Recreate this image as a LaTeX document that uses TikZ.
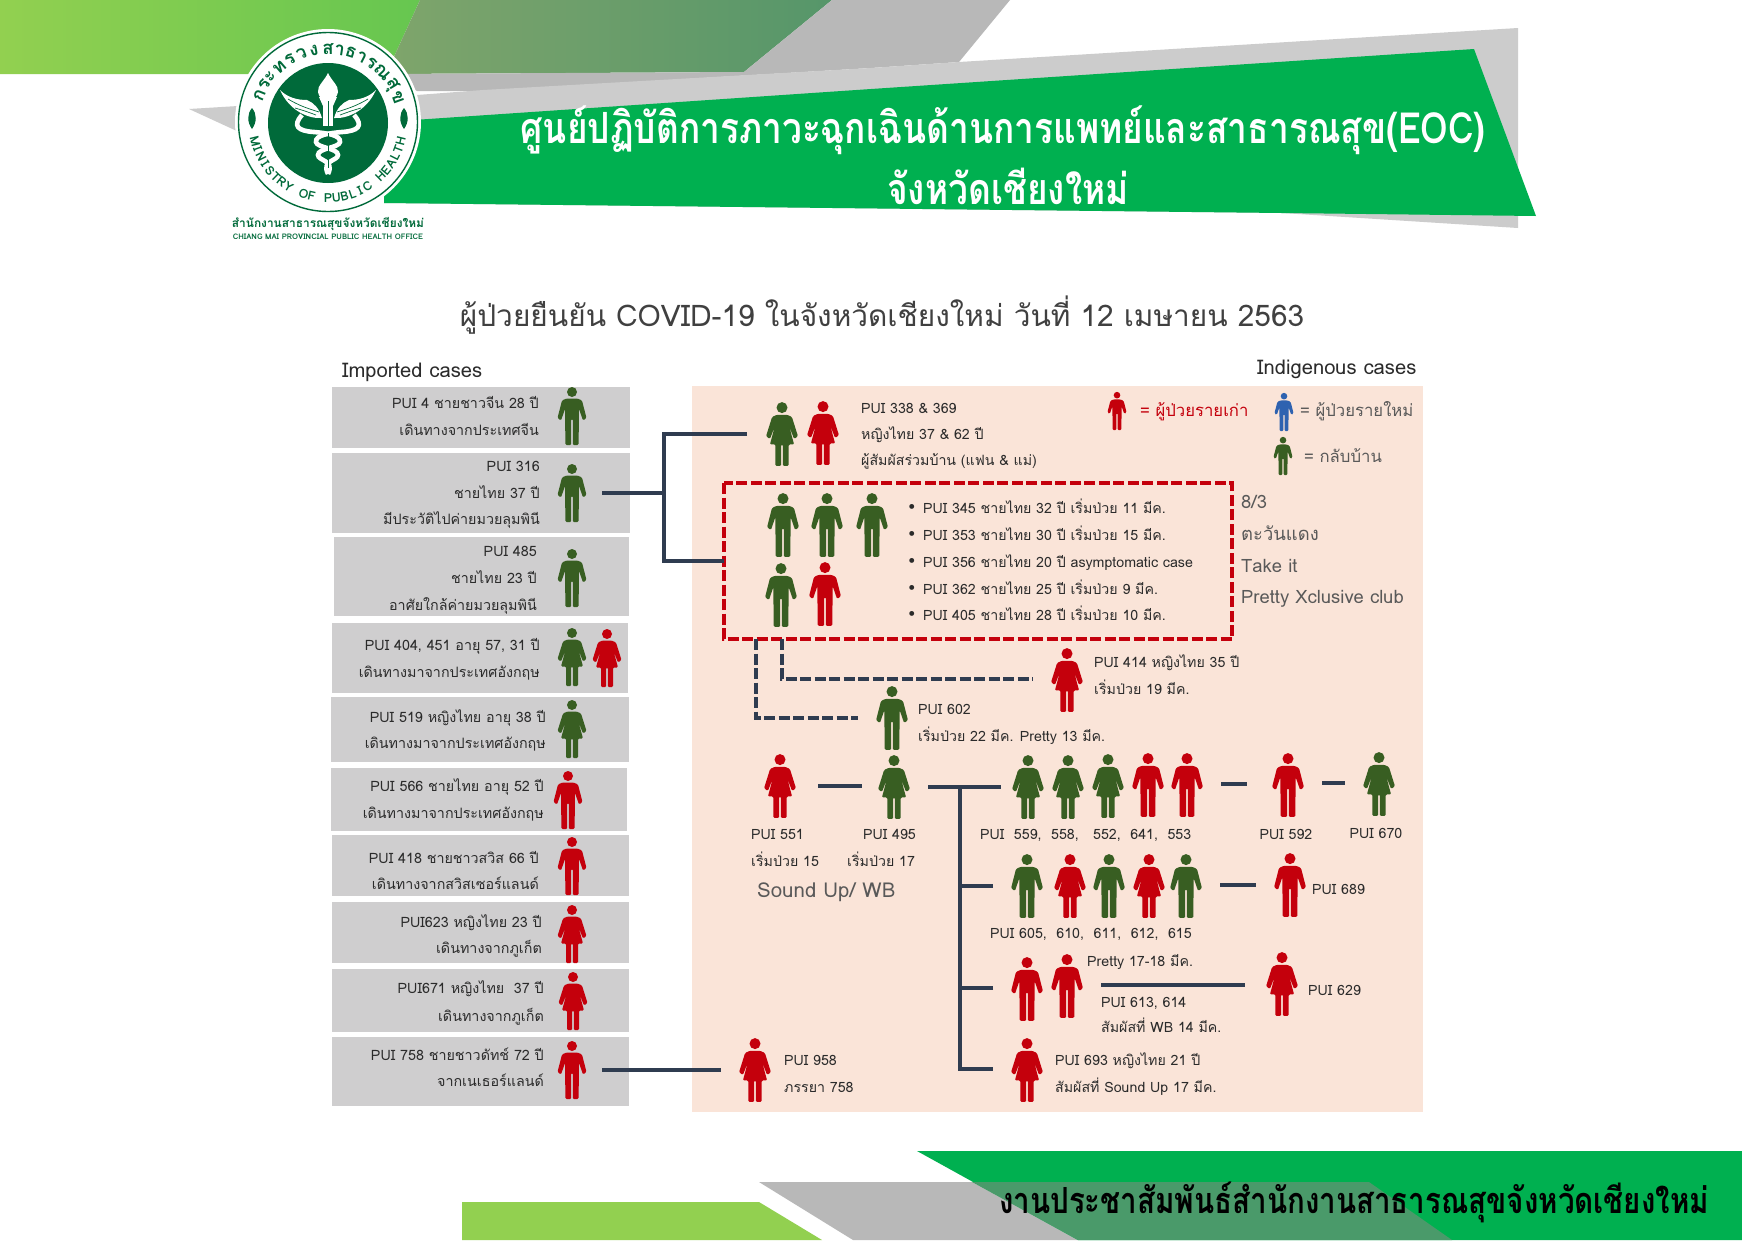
\documentclass[tikz,border=0pt]{standalone}
\usepackage{fontspec}
\setmainfont[Script=Thai]{Loma}
\newfontfamily\headfont[Script=Thai,FakeStretch=0.82]{Loma}
\usetikzlibrary{shapes.geometric}
\definecolor{gn}{HTML}{385E22}
\definecolor{rd}{HTML}{C4000C}
\definecolor{bl}{HTML}{2E62B0}
\definecolor{hgreen}{HTML}{00B050}
\definecolor{lgreen}{HTML}{92D050}
\definecolor{lgrey}{HTML}{CCCCCC}
\definecolor{dgrey}{HTML}{B8B8B8}
\definecolor{boxg}{HTML}{CFCECF}
\definecolor{peach}{HTML}{FAE4D8}
\definecolor{navy}{HTML}{2F3C50}
\definecolor{logog}{HTML}{006A3A}
\definecolor{txt}{HTML}{2B2B2B}
\definecolor{gtxt}{HTML}{595959}
\definecolor{banda}{HTML}{7FA56B}
\definecolor{bandb}{HTML}{56966A}
\definecolor{bandc}{HTML}{4A9A6A}
\tikzset{
  x=1pt,y=-1pt,
  man/.pic={
    \fill[pic actions] (0,-24) circle[radius=5];
    \fill[pic actions,rounded corners=1.2pt] (-5.5,-17.5) -- (-10,-15.5) -- (-14.5,2) -- (-11,4.5) -- (-7,-7) -- (-6.6,29) -- (-0.8,29) -- (-0.8,3) -- (0.8,3) -- (0.8,29) -- (6.6,29) -- (7,-7) -- (11,4.5) -- (14.5,2) -- (10,-15.5) -- (5.5,-17.5) -- cycle;
  },
  woman/.pic={
    \fill[pic actions] (0,-24) circle[radius=5];
    \fill[pic actions,rounded corners=1.2pt] (-4.5,-17.5) -- (-9,-15.5) -- (-14.5,2) -- (-11,4.5) -- (-6.5,-7) -- (-11,9.5) -- (-6,9.5) -- (-6,29) -- (-0.8,29) -- (-0.8,9.5) -- (0.8,9.5) -- (0.8,29) -- (6,29) -- (6,9.5) -- (11,9.5) -- (6.5,-7) -- (11,4.5) -- (14.5,2) -- (9,-15.5) -- (4.5,-17.5) -- cycle;
  },
  casebox/.style={fill=boxg,draw=none},
  lt/.style={anchor=east,inner sep=0pt,text=txt,font=\fontsize{14.3}{16}\selectfont,text height=12pt,text depth=2pt},
  rt/.style={anchor=west,inner sep=0pt,text=txt,font=\fontsize{14.2}{16}\selectfont,text height=13pt,text depth=2pt},
  ct/.style={rt,anchor=center},
  st/.style={rt,text=gtxt,font=\fontsize{18.4}{20}\selectfont},
  leg/.style={rt,text=gtxt,font=\fontsize{16.7}{18}\selectfont},
  link/.style={draw=navy,line width=3.6pt},
  dlink/.style={draw=navy,line width=3.6pt,dash pattern=on 11pt off 3.5pt},
}
\begin{document}
\begin{tikzpicture}
\useasboundingbox (0,0) rectangle (1742,1240);
\fill[white] (0,0) rectangle (1742,1240);
% top banner
\shade[left color=lgreen,right color=lgreen!70!hgreen] (0,0) -- (420,0) -- (386,74) -- (0,74) -- cycle;
\shade[left color=banda,right color=bandb] (420,0) -- (832,0) -- (744,72) -- (386,74) -- cycle;
\fill[dgrey] (386,74) -- (744,72) -- (832,0) -- (1010,0) -- (959,62) -- (871,68) -- (483,91) -- (417,91) -- cycle;
\fill[lgrey] (189,109) -- (417,95) -- (483,90) -- (871,68) -- (959,62) -- (1518,28) -- (1518,228) -- (1282,213) -- (384,203) -- (384,150) -- (239,132) -- cycle;
\fill[hgreen] (384,122) -- (871,89) -- (1474,49) -- (1536,216) -- (1282,213) -- (384,203) -- cycle;
\node[inner sep=0pt,text=white,font=\headfont\fontsize{43}{46}\selectfont\bfseries] (h1) at (1003,130) {ศูนย์ปฏิบัติการภาวะฉุกเฉินด้านการแพทย์และสาธารณสุข(EOC)};
\node[inner sep=0pt,text=white,font=\headfont\fontsize{43}{46}\selectfont\bfseries] (h2) at (1008,186) {จังหวัดเชียงใหม่};
% logo
\fill[white] (328,122) circle[radius=93];
\draw[logog,line width=1.4pt] (328,122) circle[radius=89.5];
\fill[logog] (328,123) circle[radius=60];
\foreach \a/\c [count=\i] in {158/ก,149/ร,141/ะ,131/ท,121/ร,111/ว,101/ง,90/ส,81/า,72/ธ,63/า,54/ร,43/ณ,31/สุ,20/ข}{
  \node[inner sep=0pt,rotate=\a-90,text=logog,font=\fontsize{18.5}{19}\selectfont\bfseries] (lth\i) at ({328+74*cos(\a)},{123-74*sin(\a)}) {\c};
}
\foreach \c [count=\i] in {M,I,N,I,S,T,R,Y,{},O,F,{},P,U,B,L,I,C,{},H,E,A,L,T,H}{
  \pgfmathsetmacro\a{194+(\i-1)*152/24}
  \node[inner sep=0pt,rotate=\a+90,text=logog,font=\fontsize{12.5}{13}\selectfont\bfseries] (len\i) at ({328+75*cos(\a)},{123-75*sin(\a)}) {\c};
}
\foreach \sx in {252,404}{
  \fill[logog] (\sx,108) .. controls (\sx+5,114) and (\sx+5,122) .. (\sx,129) .. controls (\sx-5,122) and (\sx-5,114) .. (\sx,108) -- cycle;
}
% emblem
\fill[white] (328,73) .. controls (331,80) and (339,86) .. (338,92) .. controls (337,97) and (334,99) .. (333,101) -- (323,101) .. controls (322,99) and (319,97) .. (318,92) .. controls (317,86) and (325,80) .. (328,73) -- cycle;
\fill[white] (319,97) -- (337,97) -- (333,106) -- (323,106) -- cycle;
\fill[white] (323,105) rectangle (333,126);
\foreach \s in {1,-1}{
  \fill[white] ({328-48*\s},90) .. controls ({328-40*\s},98) and ({328-30*\s},100) .. ({328-21*\s},100) .. controls ({328-14*\s},103) and ({328-9*\s},108) .. ({328-6*\s},118) .. controls ({328-18*\s},119) and ({328-38*\s},112) .. ({328-48*\s},90) -- cycle;
  \draw[logog,line width=0.7pt] ({328-40*\s},99) .. controls ({328-30*\s},105) and ({328-22*\s},108) .. ({328-9*\s},112);
  \draw[logog,line width=0.7pt] ({328-33*\s},108) .. controls ({328-26*\s},110) and ({328-20*\s},112) .. ({328-12*\s},115);
  \draw[white,line width=4.6pt] ({328-26*\s},115) .. controls ({328-36*\s},126) and ({328-30*\s},131) .. ({328-14*\s},132) .. controls ({328-2*\s},133) and ({328+13*\s},135) .. ({328+12*\s},142) .. controls ({328+11*\s},148) and ({328-10*\s},148) .. ({328-10*\s},155) .. controls ({328-10*\s},161) and ({328+7*\s},160) .. (328,174);
}
\draw[logog,line width=0.7pt] (328,101) -- (328,126);
\draw[logog,line width=0.7pt] (328,133) -- (328,168);
\node[inner sep=0pt,text=logog,font=\fontsize{11.9}{13}\selectfont\bfseries] (lg1) at (328,224) {สำนักงานสาธารณสุขจังหวัดเชียงใหม่};
\node[inner sep=0pt,text=logog,font=\fontsize{7.7}{9}\selectfont\bfseries] (lg2) at (328,237) {CHIANG MAI PROVINCIAL PUBLIC HEALTH OFFICE};
% title
\node[inner sep=0pt,text=txt!90!white,font=\fontsize{29.8}{33}\selectfont] (title) at (882,315) {ผู้ป่วยยืนยัน COVID-19 ในจังหวัดเชียงใหม่ วันที่ 12 เมษายน 2563};
\node[rt,font=\fontsize{20.2}{22}\selectfont,text height=15pt,text depth=3pt] (imp) at (342,371) {Imported cases};
\node[rt,font=\fontsize{20.2}{22}\selectfont,text height=15pt,text depth=3pt] (ind) at (1257,368) {Indigenous cases};
% panel and left boxes
\fill[peach] (692,386) rectangle (1423,1112);
\fill[casebox] (332,387) rectangle (630,448);
\fill[casebox] (332,453) rectangle (630,533);
\fill[casebox] (334,537) rectangle (629,616);
\fill[casebox] (332,623) rectangle (628,693);
\fill[casebox] (331,697) rectangle (629,762);
\fill[casebox] (331,768) rectangle (627,831);
\fill[casebox] (332,835) rectangle (629,896);
\fill[casebox] (332,902) rectangle (629,963);
\fill[casebox] (332,969) rectangle (629,1032);
\fill[casebox] (332,1037) rectangle (629,1106);
% left text
\node[lt] (a1) at (539,403) {PUI 4 ชายชาวจีน 28 ปี};
\node[lt] (a2) at (539,430) {เดินทางจากประเทศจีน};
\node[lt] (b1) at (540,466) {PUI 316};
\node[lt] (b2) at (540,493) {ชายไทย 37 ปี};
\node[lt] (b3) at (540,519) {มีประวัติไปค่ายมวยลุมพินี};
\node[lt] (c1) at (537,551) {PUI 485};
\node[lt] (c2) at (537,578) {ชายไทย 23 ปี};
\node[lt] (c3) at (537,605) {อาศัยใกล้ค่ายมวยลุมพินี};
\node[lt] (d1) at (540,645) {PUI 404, 451 อายุ 57, 31 ปี};
\node[lt] (d2) at (540,672) {เดินทางมาจากประเทศอังกฤษ};
\node[lt] (e1) at (546,717) {PUI 519 หญิงไทย อายุ 38 ปี};
\node[lt] (e2) at (546,743) {เดินทางมาจากประเทศอังกฤษ};
\node[lt] (f1) at (544,786) {PUI 566 ชายไทย อายุ 52 ปี};
\node[lt] (f2) at (544,813) {เดินทางมาจากประเทศอังกฤษ};
\node[lt] (g1) at (539,858) {PUI 418 ชายชาวสวิส 66 ปี};
\node[lt] (g2) at (539,884) {เดินทางจากสวิสเซอร์แลนด์};
\node[lt] (i1) at (542,922) {PUI623 หญิงไทย 23 ปี};
\node[lt] (i2) at (542,948) {เดินทางจากภูเก็ต};
\node[lt] (j1) at (544,988) {PUI671 หญิงไทย~~37 ปี};
\node[lt] (j2) at (544,1016) {เดินทางจากภูเก็ต};
\node[lt] (k1) at (544,1055) {PUI 758 ชายชาวดัทช์ 72 ปี};
\node[lt] (k2) at (544,1081) {จากเนเธอร์แลนด์};
% left figures
\pic[fill=gn] at (572,416) {man};
\pic[fill=gn] at (572,493) {man};
\pic[fill=gn] at (572,578) {man};
\pic[fill=gn] at (572,657) {woman};
\pic[fill=rd] at (607,658) {woman};
\pic[fill=gn] at (572,729) {woman};
\pic[fill=rd] at (568,800) {man};
\pic[fill=rd] at (572,866) {man};
\pic[fill=rd] at (572,934) {woman};
\pic[fill=rd] at (573,1001) {woman};
\pic[fill=rd] at (572,1070) {man};
% panel figures, upper
\pic[fill=gn,scale=1.1] at (782,434) {woman};
\pic[fill=rd,scale=1.1] at (823,433) {woman};
\pic[fill=rd,scale=.66] at (1117,411) {man};
\pic[fill=bl,scale=.66] at (1284,412) {man};
\pic[fill=gn,scale=.66] at (1283,456) {man};
\node[rt] (p1) at (861,408) {PUI 338 \& 369};
\node[rt] (p2) at (861,434) {หญิงไทย 37 \& 62 ปี};
\node[rt] (p3) at (861,460) {ผู้สัมผัสร่วมบ้าน (แฟน \& แม่)};
\node[leg,text=rd] (l1) at (1140,411) {= ผู้ป่วยรายเก่า};
\node[leg] (l2) at (1300,411) {= ผู้ป่วยรายใหม่};
\node[leg] (l3) at (1304,457) {= กลับบ้าน};
% dashed group
\draw[rd,line width=3.8pt,dash pattern=on 11pt off 3.5pt] (724,483) rectangle (1232,639);
\coordinate (boxL) at (724,561);
\coordinate (boxA) at (756,639);
\coordinate (boxB) at (782,639);
\pic[fill=gn,scale=1.1] at (783,525) {man};
\pic[fill=gn,scale=1.1] at (827,525) {man};
\pic[fill=gn,scale=1.1] at (872,525) {man};
\pic[fill=gn,scale=1.1] at (781,595) {man};
\pic[fill=rd,scale=1.1] at (825,594) {man};
\foreach \yy/\tx [count=\i] in {508/PUI 345 ชายไทย 32 ปี เริ่มป่วย 11 มีค.,535/PUI 353 ชายไทย 30 ปี เริ่มป่วย 15 มีค.,562/PUI 356 ชายไทย 20 ปี asymptomatic case,589/PUI 362 ชายไทย 25 ปี เริ่มป่วย 9 มีค.,615/PUI 405 ชายไทย 28 ปี เริ่มป่วย 10 มีค.}{
  \node[rt,anchor=center] (bu\i) at (912,{\yy-2}) {•};
  \node[rt] (bt\i) at (923,\yy) {\tx};
}
\node[st] (s1) at (1241,503) {8/3};
\node[st] (s2) at (1241,535) {ตะวันแดง};
\node[st] (s3) at (1241,567) {Take it};
\node[st] (s4) at (1241,598) {Pretty Xclusive club};
% PUI 414, 602
\pic[fill=rd,scale=1.1] at (1067,680) {woman};
\node[rt] (q1) at (1094,662) {PUI 414 หญิงไทย 35 ปี};
\node[rt] (q2) at (1094,689) {เริ่มป่วย 19 มีค.};
\pic[fill=gn,scale=1.1] at (892,718) {man};
\node[rt] (q3) at (918,709) {PUI 602};
\node[rt] (q4) at (918,736) {เริ่มป่วย 22 มีค. Pretty 13 มีค.};
\coordinate (to414) at (1033,679);
\coordinate (to602) at (858,718);
\draw[dlink] (boxB) |- (to414);
\draw[dlink] (boxA) |- (to602);
% solid trunk
\coordinate (fr316) at (602,493);
\coordinate (jn) at (664,493);
\coordinate (to338) at (747,434);
\draw[link] (fr316) -- (jn);
\draw[link] (to338) -| (jn) |- (boxL);
% PUI 551 row
\pic[fill=rd,scale=1.1] at (780,786) {woman};
\pic[fill=gn,scale=1.1] at (894,787) {woman};
\coordinate (c551) at (818,786);
\coordinate (c495) at (862,786);
\draw[link] (c551) -- (c495);
\coordinate (tr0) at (928,787);
\coordinate (tr1) at (1001,787);
\coordinate (trT) at (960,787);
\coordinate (trB) at (960,1069);
\coordinate (br2) at (993,886);
\coordinate (br3) at (993,988);
\coordinate (br4) at (993,1069);
\draw[link,line width=4pt] (tr0) -- (tr1);
\draw[link] (trT) -- (trB) -- (br4);
\draw[link] (br2) -- (br2 -| trT);
\draw[link] (br3) -- (br3 -| trT);
\node[rt] (u1) at (751,834) {PUI 551};
\node[rt] (u2) at (751,861) {เริ่มป่วย 15};
\node[rt] (u3) at (863,834) {PUI 495};
\node[rt] (u4) at (847,861) {เริ่มป่วย 17};
\node[st,font=\fontsize{20.5}{22}\selectfont] (u5) at (757,892) {Sound Up/ WB};
\pic[fill=gn,scale=1.1] at (1028,787) {woman};
\pic[fill=gn,scale=1.1] at (1068,787) {woman};
\pic[fill=gn,scale=1.1] at (1108,786) {woman};
\pic[fill=rd,scale=1.1] at (1148,785) {man};
\pic[fill=rd,scale=1.1] at (1187,785) {man};
\pic[fill=rd,scale=1.1] at (1288,785) {man};
\pic[fill=gn,scale=1.1] at (1379,784) {woman};
\coordinate (a553) at (1221,784);
\coordinate (a592) at (1247,784);
\coordinate (b592) at (1322,783);
\coordinate (b670) at (1345,783);
\draw[link] (a553) -- (a592);
\draw[link] (b592) -- (b670);
\node[rt] (v1) at (980,834) {PUI~~559,~~558,~~~552,~~641,~~553};
\node[ct] (v2) at (1286,834) {PUI 592};
\node[ct] (v3) at (1376,833) {PUI 670};
% row 2
\pic[fill=gn,scale=1.1] at (1027,886) {man};
\pic[fill=rd,scale=1.1] at (1070,886) {woman};
\pic[fill=gn,scale=1.1] at (1109,886) {man};
\pic[fill=rd,scale=1.1] at (1149,886) {woman};
\pic[fill=gn,scale=1.1] at (1186,886) {man};
\pic[fill=rd,scale=1.1] at (1290,885) {man};
\coordinate (a615) at (1220,885);
\coordinate (a689) at (1256,885);
\draw[link] (a615) -- (a689);
\node[rt] (w1) at (1312,889) {PUI 689};
\node[rt] (w2) at (990,933) {PUI 605,~~610,~~611,~~612,~~615};
% row 3
\pic[fill=rd,scale=1.1] at (1027,989) {man};
\pic[fill=rd,scale=1.1] at (1067,986) {man};
\pic[fill=rd,scale=1.1] at (1282,984) {woman};
\coordinate (a614) at (1101,985);
\coordinate (a629) at (1245,985);
\draw[link] (a614) -- (a629);
\node[rt] (x1) at (1087,961) {Pretty 17-18 มีค.};
\node[rt] (x2) at (1101,1002) {PUI 613, 614};
\node[rt] (x3) at (1101,1027) {สัมผัสที่ WB 14 มีค.};
\node[rt] (x4) at (1308,990) {PUI 629};
% row 4
\pic[fill=rd,scale=1.1] at (1027,1070) {woman};
\node[rt] (y1) at (1055,1060) {PUI 693 หญิงไทย 21 ปี};
\node[rt] (y2) at (1055,1087) {สัมผัสที่ Sound Up 17 มีค.};
\pic[fill=rd,scale=1.1] at (755,1070) {woman};
\node[rt] (z1) at (784,1060) {PUI 958};
\node[rt] (z2) at (784,1087) {ภรรยา 758};
\coordinate (fr758) at (602,1070);
\coordinate (to958) at (721,1070);
\draw[link] (fr758) -- (to958);
% bottom banner
\fill[lgreen] (462,1202) -- (759,1202) -- (822,1240) -- (462,1240) -- cycle;
\fill[dgrey] (759,1182) -- (972,1182) -- (1078,1240) -- (853,1240) -- cycle;
\fill[hgreen] (917,1151) -- (1742,1151) -- (1742,1240) -- (1078,1240) -- cycle;
\fill[bandc] (972,1182) -- (1369,1182) -- (1452,1240) -- (1078,1240) -- cycle;
\node[inner sep=0pt,text=black,font=\headfont\fontsize{36}{38}\selectfont\bfseries] (foot) at (1354,1202) {งานประชาสัมพันธ์สำนักงานสาธารณสุขจังหวัดเชียงใหม่};
\end{tikzpicture}
\end{document}
